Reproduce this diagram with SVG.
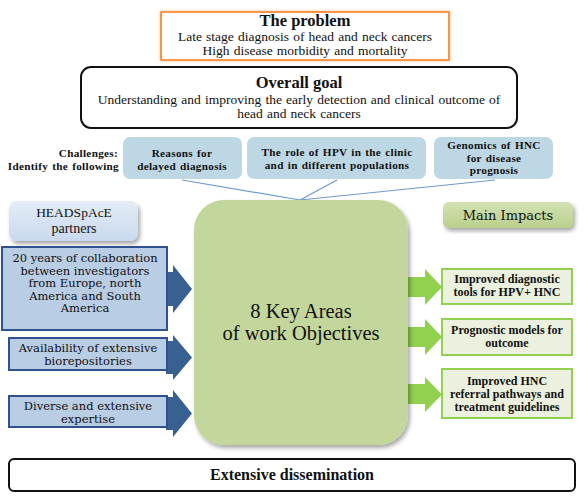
<svg xmlns="http://www.w3.org/2000/svg" width="588" height="496" viewBox="0 0 588 496" font-family="'Liberation Serif', 'DejaVu Serif', serif">
<defs>
<filter id="sh" x="-10%" y="-10%" width="130%" height="130%">
<feDropShadow dx="2" dy="3" stdDeviation="2" flood-color="#000" flood-opacity="0.35"/>
</filter>
<filter id="glow" x="-5%" y="-20%" width="110%" height="140%">
<feDropShadow dx="0" dy="0" stdDeviation="1.5" flood-color="#F79646" flood-opacity="0.6"/>
</filter>
<linearGradient id="gBlue" x1="0" y1="0" x2="0" y2="1">
<stop offset="0" stop-color="#E4ECF6"/>
<stop offset="1" stop-color="#C9D9EE"/>
</linearGradient>
<linearGradient id="gGreen" x1="0" y1="0" x2="0" y2="1">
<stop offset="0" stop-color="#D3E2B4"/>
<stop offset="1" stop-color="#B9CF8C"/>
</linearGradient>
</defs>
<style>
text{font-family:'Liberation Serif','DejaVu Serif',serif;fill:#111;text-anchor:middle}
.b{font-weight:bold}
.e{text-anchor:end}
.body{font-size:13.5px;word-spacing:0.8px}
.ch{fill:#BDD8E4}
.ct{font-size:11.2px;font-weight:bold;word-spacing:1px;letter-spacing:0.3px}
.lb{fill:#B9CDE5;stroke:#2F528F;stroke-width:2}
.lt{font-family:'DejaVu Serif','Liberation Serif',serif;font-size:11.5px}
.ba{fill:#386192}
.ga{fill:#92D050}
.gb{fill:#EBF1DE;stroke:#92D050;stroke-width:2}
.rt{font-size:12px;font-weight:bold}
.conn{stroke:#6F9AD0;stroke-width:1.2;fill:none}
</style>

<g id="problem">
<rect x="161" y="12" width="288" height="48" fill="#fff" stroke="#F79646" stroke-width="2" filter="url(#glow)"/>
<text x="305" y="26" class="b" font-size="16.5">The problem</text>
<text x="305" y="41" class="body">Late stage diagnosis  of head and neck cancers</text>
<text x="305" y="55" class="body">High  disease morbidity  and mortality</text>
</g>

<g id="goal">
<rect x="81" y="67" width="436" height="61" rx="10" fill="#fff" stroke="#111" stroke-width="2"/>
<text x="299" y="88" class="b" font-size="16.5">Overall goal</text>
<text x="299" y="104" class="body">Understanding  and improving  the early detection and clinical  outcome of</text>
<text x="299" y="118" class="body">head and neck cancers</text>
</g>

<g id="challenges-label">
<text x="118" y="157" class="ct e">Challenges:</text>
<text x="119" y="169.5" class="ct e">Identify  the following</text>
</g>

<g id="ch1">
<rect x="123" y="137" width="119" height="42" rx="7" class="ch"/>
<text x="182" y="157" class="ct">Reasons for</text>
<text x="182" y="169.5" class="ct">delayed  diagnosis</text>
</g>
<g id="ch2">
<rect x="247" y="137" width="179" height="42" rx="7" class="ch"/>
<text x="337" y="156" class="ct">The role of HPV  in the clinic</text>
<text x="337" y="168.5" class="ct">and  in different  populations</text>
</g>
<g id="ch3">
<rect x="434" y="137" width="119" height="42" rx="7" class="ch"/>
<text x="494" y="149" class="ct">Genomics  of HNC</text>
<text x="494" y="161.5" class="ct">for disease</text>
<text x="494" y="174" class="ct">prognosis</text>
</g>

<g id="connectors">
<line x1="182" y1="180" x2="300" y2="200" class="conn"/>
<line x1="337" y1="180" x2="300" y2="200" class="conn"/>
<line x1="495" y1="180" x2="300" y2="200" class="conn"/>
<polygon class="ba" points="166,272 173,272 173,265 192,289 173,313 173,306 166,306"/>
<polygon class="ba" points="166,341 173,341 173,335 192,357.5 173,380 173,374 166,374"/>
<polygon class="ba" points="166,397 173,397 173,390 192,413.5 173,437 173,430 166,430"/>
<polygon class="ga" points="406,277 425,277 425,269 442,287 425,305 425,297 406,297"/>
<polygon class="ga" points="406,327 425,327 425,319 442,337 425,355 425,347 406,347"/>
<polygon class="ga" points="406,384 425,384 425,377 442,394.5 425,412 425,404 406,404"/>
</g>

<g id="center">
<rect x="194" y="200" width="214" height="245" rx="30" fill="#C3D69B" filter="url(#sh)"/>
<text x="301" y="318" font-size="20.5">8 Key Areas</text>
<text x="301" y="340" font-size="20.5">of work Objectives</text>
</g>

<g id="partners">
<rect x="9" y="201" width="129" height="40" rx="8" fill="url(#gBlue)" filter="url(#sh)"/>
<text x="74" y="217" font-size="13.5">HEADSpAcE</text>
<text x="74" y="233" font-size="14">partners</text>
</g>

<g id="p1">
<rect x="2" y="247" width="165" height="83" class="lb"/>
<text x="85" y="262" class="lt">20 years of collaboration</text>
<text x="85" y="274.5" class="lt">between investigators</text>
<text x="85" y="287" class="lt">from  Europe, north</text>
<text x="85" y="299.5" class="lt">America and South</text>
<text x="85" y="312" class="lt">America</text>
</g>
<g id="p2">
<rect x="9" y="338" width="158" height="32" class="lb"/>
<text x="88" y="352" class="lt">Availability  of extensive</text>
<text x="88" y="365" class="lt">biorepositories</text>
</g>
<g id="p3">
<rect x="9" y="396" width="158" height="31" class="lb"/>
<text x="88" y="410" class="lt">Diverse and extensive</text>
<text x="88" y="422.5" class="lt">expertise</text>
</g>

<g id="impacts">
<rect x="443" y="202" width="130" height="26" rx="6" fill="url(#gGreen)" filter="url(#sh)"/>
<text x="508" y="219.5" font-size="13" style="font-family:'DejaVu Serif','Liberation Serif',serif">Main Impacts</text>
</g>

<g id="i1">
<rect x="442" y="269" width="130" height="35" class="gb"/>
<text x="507" y="283" class="rt">Improved diagnostic</text>
<text x="507" y="296" class="rt">tools for HPV+  HNC</text>
</g>
<g id="i2">
<rect x="442" y="319" width="130" height="36" class="gb"/>
<text x="507" y="334" class="rt">Prognostic models for</text>
<text x="507" y="347" class="rt">outcome</text>
</g>
<g id="i3">
<rect x="442" y="369" width="130" height="49" class="gb"/>
<text x="507" y="385" class="rt">Improved HNC</text>
<text x="507" y="398" class="rt">referral  pathways and</text>
<text x="507" y="411" class="rt">treatment guidelines</text>
</g>

<g id="dissemination">
<rect x="9" y="459" width="566" height="32" rx="5" fill="#fff" stroke="#111" stroke-width="2"/>
<text x="292" y="480" class="b" font-size="16">Extensive dissemination</text>
</g>
</svg>
